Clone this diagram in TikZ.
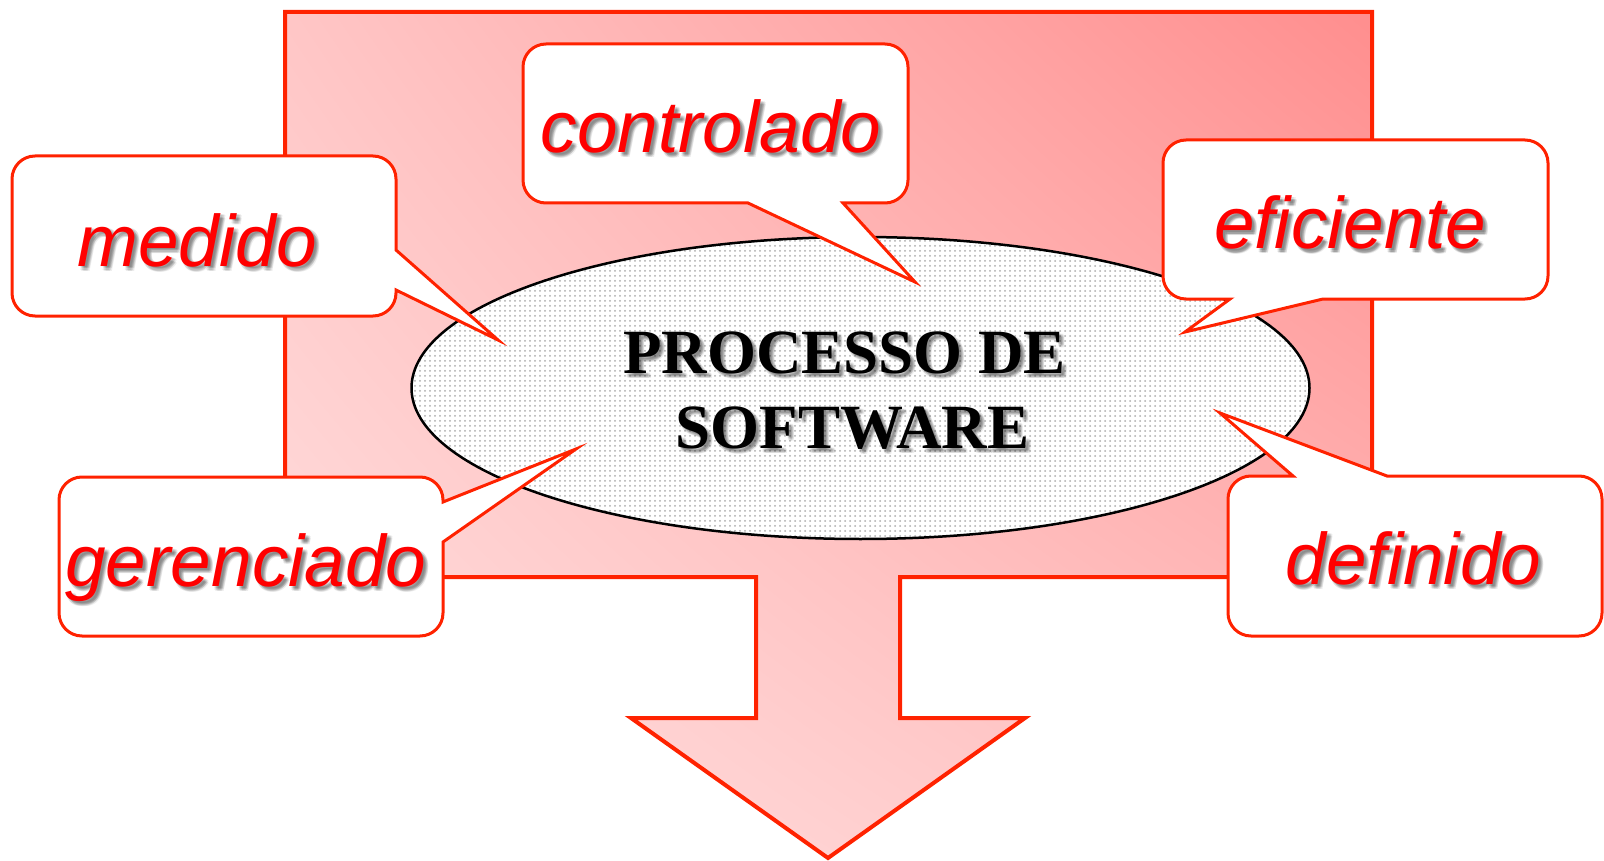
\documentclass[tikz,border=0pt]{standalone}
\usepackage{fontspec}
\setmainfont{Liberation Serif}
\newfontfamily\arialf{Liberation Sans}
\usetikzlibrary{patterns.meta,shadings}
\definecolor{bord}{HTML}{FF2200}
\definecolor{txtred}{HTML}{FF0000}
\definecolor{cUL}{HTML}{FFC6C6}
\definecolor{cUR}{HTML}{FF8E8E}
\definecolor{cLL}{HTML}{FFE2E2}
\definecolor{cLR}{HTML}{FFC2C2}
\tikzdeclarepattern{name=gdots, type=uncolored,
  bottom left={(-1.5pt,-1.5pt)}, top right={(3.5pt,3.5pt)},
  tile size={(5pt,5pt)},
  code={\fill (0pt,0pt) circle (1pt);}}
% soft shadow: #1 style, #2 name, #3 x, #4 y, #5 text
\newcommand\softshade[5]{%
  \foreach \dx/\dy [count=\k] in {2/2,3/3,4/4,5/5,3/5,5/3,2/4,4/2}{%
    \node[#1, text=black, text opacity=0.07] (#2s\k) at (#3+\dx,#4+\dy) {#5};}%
  \node[#1] (#2) at (#3,#4) {#5};}
\begin{document}
\begin{tikzpicture}[x=1pt,y=-1pt,
  callout/.style={fill=white, draw=bord, line width=3pt, line join=miter},
  word/.style={font=\arialf\itshape\fontsize{73}{80}\selectfont, text=txtred, inner sep=0pt, anchor=base},
  title/.style={font=\bfseries\fontsize{63}{70}\selectfont, text=black, inner sep=0pt, anchor=base}]
\useasboundingbox (0,0) rectangle (1604,861);
% big arrow shape
\shade[upper left=cUL, upper right=cUR, lower left=cLL, lower right=cLR]
  (285,12) -- (1372,12) -- (1372,577) -- (900,577) -- (900,718) -- (1025,718)
  -- (828,858) -- (631,718) -- (756,718) -- (756,577) -- (285,577) -- cycle;
\draw[bord, line width=4pt, line join=miter]
  (285,12) -- (1372,12) -- (1372,577) -- (900,577) -- (900,718) -- (1025,718)
  -- (828,858) -- (631,718) -- (756,718) -- (756,577) -- (285,577) -- cycle;
% ellipse
\coordinate (ec) at (860.5,388);
\fill[white] (ec) ellipse [x radius=449pt, y radius=151pt];
\fill[pattern=gdots, pattern color=black!32] (ec) ellipse [x radius=449pt, y radius=151pt];
\draw[black, line width=2.5pt] (ec) ellipse [x radius=449pt, y radius=151pt];
% callouts
\draw[callout] (35,156) -- (373,156) arc[start angle=90,end angle=0,radius=23pt]
  -- (396,250) -- (498,340) -- (396,290) -- (396,293) arc[start angle=0,end angle=-90,radius=23pt]
  -- (35,316) arc[start angle=-90,end angle=-180,radius=23pt]
  -- (12,179) arc[start angle=180,end angle=90,radius=23pt] -- cycle;
\draw[callout] (546,44) -- (885,44) arc[start angle=90,end angle=0,radius=23pt]
  -- (908,180) arc[start angle=0,end angle=-90,radius=23pt]
  -- (843,203) -- (915,282) -- (748,203)
  -- (546,203) arc[start angle=-90,end angle=-180,radius=23pt]
  -- (523,67) arc[start angle=180,end angle=90,radius=23pt] -- cycle;
\draw[callout] (1186,140) -- (1525,140) arc[start angle=90,end angle=0,radius=23pt]
  -- (1548,276) arc[start angle=0,end angle=-90,radius=23pt]
  -- (1323,299) -- (1185,332) -- (1230,299)
  -- (1186,299) arc[start angle=-90,end angle=-180,radius=23pt]
  -- (1163,163) arc[start angle=180,end angle=90,radius=23pt] -- cycle;
\draw[callout] (82,477) -- (420,477) arc[start angle=90,end angle=0,radius=23pt]
  -- (443,502) -- (576,449) -- (443,542)
  -- (443,613) arc[start angle=0,end angle=-90,radius=23pt]
  -- (82,636) arc[start angle=-90,end angle=-180,radius=23pt]
  -- (59,500) arc[start angle=180,end angle=90,radius=23pt] -- cycle;
\draw[callout] (1251,476) -- (1293,476) -- (1220,413) -- (1387,476)
  -- (1579,476) arc[start angle=90,end angle=0,radius=23pt]
  -- (1602,613) arc[start angle=0,end angle=-90,radius=23pt]
  -- (1251,636) arc[start angle=-90,end angle=-180,radius=23pt]
  -- (1228,499) arc[start angle=180,end angle=90,radius=23pt] -- cycle;
% title text
\softshade{title}{t1}{844.5}{373}{PROCESSO DE}
\softshade{title}{t2}{852.5}{448}{SOFTWARE}
% words
\softshade{word}{m}{197}{266}{medido}
\softshade{word}{c}{711}{153}{controlado}
\softshade{word}{e}{1350}{249}{eficiente}
\softshade{word}{g}{246}{586}{gerenciado}
\softshade{word}{d}{1413.5}{584}{definido}
\end{tikzpicture}
\end{document}
